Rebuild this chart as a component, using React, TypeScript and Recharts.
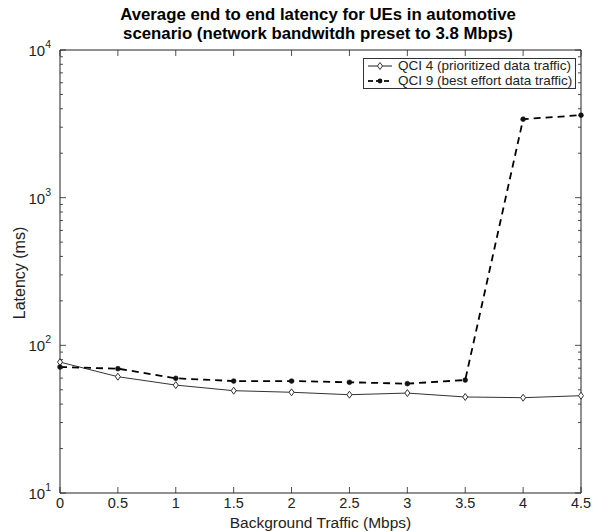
import React from "react";
import { LineChart, Line, XAxis, YAxis } from "recharts";

const trafficMbps = [0, 0.5, 1, 1.5, 2, 2.5, 3, 3.5, 4, 4.5];
const qci4Latency = [77, 61.3, 53.8, 49.3, 48.1, 46.3, 47.5, 44.7, 44.2, 45.6];
const qci9Latency = [71.3, 69.5, 59.8, 57.3, 57.3, 56.2, 55, 58.2, 3400, 3620];

const xTicks = [0, 0.5, 1, 1.5, 2, 2.5, 3, 3.5, 4, 4.5];
const yTicks = [
  10, 20, 30, 40, 50, 60, 70, 80, 90,
  100, 200, 300, 400, 500, 600, 700, 800, 900,
  1000, 2000, 3000, 4000, 5000, 6000, 7000, 8000, 9000, 10000,
];

const FONT = "'Liberation Sans', Arial, Helvetica, sans-serif";
const INK = "#222";

const data = trafficMbps.map((x, i) => ({ x, qci4: qci4Latency[i], qci9: qci9Latency[i] }));

const isDecade = (v: number) => Math.abs(Math.log10(v) - Math.round(Math.log10(v))) < 1e-9;

function LeftTick(props: any) {
  const { x, y, payload } = props;
  const v = payload.value as number;
  const major = isDecade(v);
  const len = major ? 6 : 3;
  return (
    <g>
      <line x1={x} x2={x + len} y1={y} y2={y} stroke={INK} strokeWidth={0.8} />
      {major && (
        <text x={x - 9} y={y + 6} textAnchor="end" fontSize={15} fill={INK} fontFamily={FONT}>
          10
          <tspan dy={-8} fontSize={10.5}>{Math.round(Math.log10(v))}</tspan>
        </text>
      )}
    </g>
  );
}

function RightTick(props: any) {
  const { x, y, payload } = props;
  const len = isDecade(payload.value) ? 6 : 3;
  return <line x1={x} x2={x - len} y1={y} y2={y} stroke={INK} strokeWidth={0.8} />;
}

function BottomTick(props: any) {
  const { x, y, payload } = props;
  return (
    <g>
      <line x1={x} x2={x} y1={y} y2={y - 6} stroke={INK} strokeWidth={0.8} />
      <text x={x} y={y + 15} textAnchor="middle" fontSize={14.5} fill={INK} fontFamily={FONT}>
        {payload.value}
      </text>
    </g>
  );
}

function TopTick(props: any) {
  const { x, y } = props;
  return <line x1={x} x2={x} y1={y} y2={y + 6} stroke={INK} strokeWidth={0.8} />;
}

function Diamond(props: any) {
  const { cx, cy } = props;
  if (cx == null || cy == null) return null;
  return (
    <path
      d={`M${cx},${cy - 3.5} L${cx + 2.5},${cy} L${cx},${cy + 3.5} L${cx - 2.5},${cy} Z`}
      fill="#fff"
      stroke="#333"
      strokeWidth={1}
    />
  );
}

function Dot(props: any) {
  const { cx, cy } = props;
  if (cx == null || cy == null) return null;
  return <circle cx={cx} cy={cy} r={2.4} fill="#111" stroke="#111" strokeWidth={0.6} />;
}

export default function App() {
  return (
    <div style={{ position: "absolute", left: 0, top: 0, width: 601, height: 531, background: "#fff", fontFamily: FONT }}>
      <div
        style={{
          position: "absolute", left: 0, top: 5, width: 636, textAlign: "center",
          fontWeight: "bold", fontSize: 16.8, lineHeight: "19px", color: "#000",
        }}
      >
        Average end to end latency for UEs in automotive
        <br />
        scenario (network bandwitdh preset to 3.8 Mbps)
      </div>
      <div
        style={{
          position: "absolute", left: 20, top: 273, transform: "translate(-50%, -50%) rotate(-90deg)",
          fontSize: 16, color: INK, whiteSpace: "nowrap",
        }}
      >
        Latency (ms)
      </div>
      <div
        style={{
          position: "absolute", left: 0, top: 514, width: 641, textAlign: "center",
          fontSize: 15.5, lineHeight: "17px", color: INK, whiteSpace: "nowrap",
        }}
      >
        Background Traffic (Mbps)
      </div>
      <LineChart
        width={601}
        height={531}
        data={data}
        margin={{ top: 0, right: 0, left: 0, bottom: 0 }}
        style={{ position: "absolute", left: 0, top: 0 }}
      >
        <XAxis
          dataKey="x"
          type="number"
          domain={[0, 4.5]}
          ticks={xTicks}
          height={38}
          tickSize={0}
          tickMargin={0}
          tickLine={false}
          tick={<BottomTick />}
          axisLine={{ stroke: INK }}
          interval={0}
        />
        <XAxis
          xAxisId="top"
          orientation="top"
          dataKey="x"
          type="number"
          domain={[0, 4.5]}
          ticks={xTicks}
          height={50}
          tickSize={0}
          tickMargin={0}
          tickLine={false}
          tick={<TopTick />}
          axisLine={{ stroke: INK }}
          interval={0}
        />
        <YAxis
          type="number"
          scale="log"
          domain={[10, 10000]}
          ticks={yTicks}
          allowDataOverflow
          width={60}
          tickSize={0}
          tickMargin={0}
          tickLine={false}
          tick={<LeftTick />}
          axisLine={{ stroke: INK }}
          interval={0}
        />
        <YAxis
          yAxisId="right"
          orientation="right"
          type="number"
          scale="log"
          domain={[10, 10000]}
          ticks={yTicks}
          allowDataOverflow
          width={20}
          tickSize={0}
          tickMargin={0}
          tickLine={false}
          tick={<RightTick />}
          axisLine={{ stroke: INK }}
          interval={0}
        />
        <Line
          dataKey="qci4"
          stroke="#333"
          strokeWidth={1}
          dot={<Diamond />}
          activeDot={false}
          isAnimationActive={false}
        />
        <Line
          dataKey="qci9"
          stroke="#000"
          strokeWidth={1.8}
          strokeDasharray="7 5"
          dot={<Dot />}
          activeDot={false}
          isAnimationActive={false}
        />
      </LineChart>
      <div
        style={{
          position: "absolute", left: 363, top: 58, width: 208, height: 29,
          border: "1px solid #333", background: "#fff", fontSize: 13.5, color: INK,
          lineHeight: "14.5px", padding: "0 0 0 3px",
        }}
      >
        {[
          { label: "QCI 4 (prioritized data traffic)", dash: undefined, w: 1, marker: "diamond" },
          { label: "QCI 9 (best effort data traffic)", dash: "5 3", w: 1.8, marker: "dot" },
        ].map((item) => (
          <div key={item.label} style={{ display: "flex", alignItems: "center", height: 14.5, whiteSpace: "nowrap" }}>
            <svg width={26} height={12} style={{ marginRight: 5 }}>
              <line x1={1} x2={25} y1={6} y2={6} stroke="#222" strokeWidth={item.w} strokeDasharray={item.dash} />
              {item.marker === "diamond" ? (
                <path d="M13,2.5 L15.5,6 L13,9.5 L10.5,6 Z" fill="#fff" stroke="#333" strokeWidth={1} />
              ) : (
                <circle cx={13} cy={6} r={2.4} fill="#111" />
              )}
            </svg>
            {item.label}
          </div>
        ))}
      </div>
    </div>
  );
}
